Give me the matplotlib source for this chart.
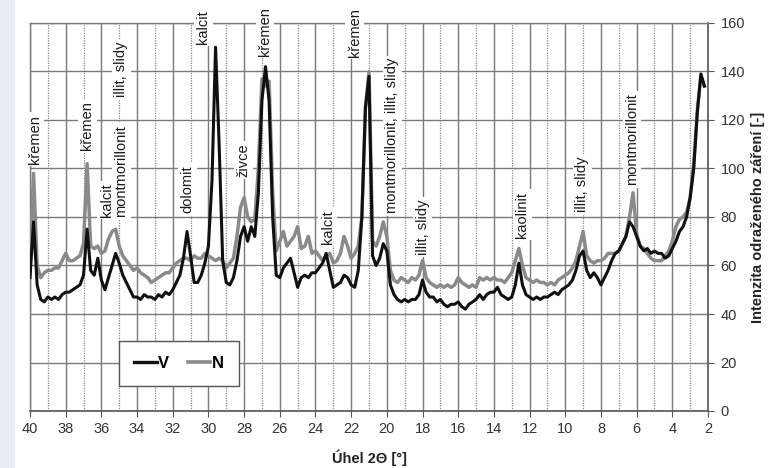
import numpy as np
import matplotlib
matplotlib.use("Agg")
import matplotlib.pyplot as plt
from matplotlib.patches import Rectangle
from matplotlib.lines import Line2D

plt.rcParams['font.family'] = ['Liberation Sans', 'DejaVu Sans']

# 2theta scan positions (step 0.2 deg), from 40 down to 2.2
two_theta = np.round(np.arange(40.0, 2.1, -0.2), 1)

# intensity, sample V (black)
v_vals = [
    55, 78, 52, 46, 45, 47, 46, 47, 46, 48,      # 40.0 - 38.2
    49, 49, 50, 51, 52, 56, 75, 58, 56, 63,      # 38.0 - 36.2
    54, 50, 55, 60, 65, 61, 56, 53, 50, 47,      # 36.0 - 34.2
    47, 46, 48, 47, 47, 46, 48, 47, 49, 48,      # 34.0 - 32.2
    50, 53, 56, 63, 74, 64, 53, 53, 56, 61,      # 32.0 - 30.2
    68, 95, 150, 110, 62, 53, 52, 55, 62, 72,    # 30.0 - 28.2
    76, 70, 76, 72, 90, 128, 142, 128, 80, 56,   # 28.0 - 26.2
    55, 59, 61, 63, 57, 51, 55, 56, 55, 57,      # 26.0 - 24.2
    57, 59, 61, 65, 58, 51, 52, 53, 56, 55,      # 24.0 - 22.2
    52, 51, 58, 80, 125, 138, 64, 60, 63, 69,    # 22.0 - 20.2
    66, 52, 48, 46, 45, 46, 45, 46, 46, 48,      # 20.0 - 18.2
    54, 49, 47, 47, 45, 46, 44, 43, 44, 44,      # 18.0 - 16.2
    45, 43, 42, 44, 45, 46, 48, 46, 48, 49,      # 16.0 - 14.2
    49, 51, 48, 47, 46, 47, 52, 61, 52, 48,      # 14.0 - 12.2
    47, 46, 47, 46, 47, 47, 48, 49, 48, 50,      # 12.0 - 10.2
    51, 52, 54, 58, 64, 66, 58, 55, 57, 55,      # 10.0 - 8.2
    52, 55, 58, 62, 65, 66, 69, 72, 78, 76,      # 8.0 - 6.2
    72, 68, 66, 67, 65, 66, 65, 65, 63, 64,      # 6.0 - 4.2
    67, 70, 74, 76, 80, 88, 100, 123, 139, 134,  # 4.0 - 2.2
]

# intensity, sample N (gray)
n_vals = [
    62, 98, 60, 55, 57, 58, 58, 59, 59, 62,      # 40.0 - 38.2
    65, 62, 62, 63, 64, 69, 102, 68, 67, 68,     # 38.0 - 36.2
    65, 66, 71, 74, 75, 68, 64, 62, 60, 58,      # 36.0 - 34.2
    59, 57, 56, 55, 53, 54, 55, 56, 57, 57,      # 34.0 - 32.2
    59, 61, 62, 63, 63, 62, 64, 63, 63, 65,      # 32.0 - 30.2
    64, 63, 62, 63, 62, 59, 61, 63, 72, 84,      # 30.0 - 28.2
    88, 80, 78, 79, 100, 137, 134, 136, 90, 66,  # 28.0 - 26.2
    70, 74, 68, 70, 72, 76, 67, 68, 72, 65,      # 26.0 - 24.2
    66, 64, 62, 64, 65, 61, 62, 65, 72, 68,      # 24.0 - 22.2
    63, 65, 68, 80, 125, 140, 70, 68, 72, 78,    # 22.0 - 20.2
    72, 58, 54, 53, 55, 54, 53, 55, 54, 56,      # 20.0 - 18.2
    62, 55, 53, 52, 51, 52, 51, 52, 51, 52,      # 18.0 - 16.2
    55, 53, 52, 51, 52, 51, 55, 54, 55, 54,      # 16.0 - 14.2
    55, 54, 54, 53, 55, 57, 62, 67, 60, 55,      # 14.0 - 12.2
    54, 53, 54, 53, 53, 52, 53, 52, 54, 55,      # 12.0 - 10.2
    56, 57, 59, 62, 68, 74, 64, 62, 61, 62,      # 10.0 - 8.2
    62, 63, 65, 65, 65, 66, 69, 72, 80, 90,      # 8.0 - 6.2
    73, 68, 67, 65, 63, 62, 62, 62, 64, 66,      # 6.0 - 4.2
    70, 76, 79, 80, 82, 88, 102, 124, 138, 134,  # 4.0 - 2.2
]

# mineral labels: position, text, bottom of the label
label_pos = [39.72, 36.8, 35.7, 34.88, 34.88, 31.18, 30.28, 28.06, 26.83,
             23.3, 21.8, 19.7, 18.0, 12.4, 9.06, 6.26]
label_txt = ["křemen", "křemen", "kalcit", "montmorillonit", "illit, slidy",
             "dolomit", "kalcit", "živce", "křemen", "kalcit", "křemen",
             "montmorillonit, illit, slidy", "illit, slidy", "kaolinit",
             "illit, slidy", "montmorillonit"]
label_y = [102, 107.5, 80, 80, 129.5, 81.5, 151.5, 96.5, 146.5, 69, 146,
           81.5, 64.5, 71.5, 82, 93]

fig = plt.figure(figsize=(7.73, 4.68), dpi=100)
fig.patches.append(Rectangle((0, 0), 15 / 773, 1, transform=fig.transFigure,
                             facecolor='#e6edf5', edgecolor='none', zorder=0))
ax = fig.add_axes([30 / 773, 1 - 411 / 468, 678 / 773, 388 / 468])

ax.plot(two_theta, n_vals, color='#8a8a8a', lw=2.5, zorder=4, solid_joinstyle='round')
ax.plot(two_theta, v_vals, color='#101010', lw=2.2, zorder=5, solid_joinstyle='round')

ax.set_xlim(40, 2)
ax.set_ylim(0, 160)
ax.set_xticks(np.arange(40, 1, -2))
ax.set_xticks(np.arange(39, 2, -2), minor=True)
ax.set_yticks(np.arange(0, 161, 20))
ax.yaxis.tick_right()
ax.yaxis.set_label_position('right')

ax.set_axisbelow(True)
ax.grid(which='major', axis='both', color='#7a7a7a', lw=1.0)
ax.grid(which='minor', axis='x', color='#8a8a8a', lw=0.9, ls=(0, (1, 1)))

ax.tick_params(axis='x', which='major', direction='out', length=4, color='#555555',
               labelsize=10.5, labelcolor='#333333', pad=4)
ax.tick_params(axis='x', which='minor', length=0)
ax.tick_params(axis='y', which='major', direction='out', length=4, color='#555555',
               labelsize=10.5, labelcolor='#333333', pad=5)

for side in ['left', 'top']:
    ax.spines[side].set_color('#7a7a7a')
    ax.spines[side].set_linewidth(1.0)
for side in ['right', 'bottom']:
    ax.spines[side].set_color('#555555')
    ax.spines[side].set_linewidth(1.2)

ax.set_xlabel("Úhel 2Θ [°]", fontsize=10.5, fontweight='bold', color='#222222', labelpad=10)
ax.set_ylabel("Intenzita odraženého záření [-]", fontsize=10.5, fontweight='bold',
              color='#222222', labelpad=4)

for xp, txt, yp in zip(label_pos, label_txt, label_y):
    ax.text(xp, yp, txt, rotation=90, ha='center', va='bottom', fontsize=10.5,
            color='#1a1a1a', zorder=3, clip_on=False,
            bbox=dict(facecolor='white', edgecolor='none', pad=1.8))

handles = [Line2D([], [], color='#101010', lw=2.4), Line2D([], [], color='#8a8a8a', lw=2.6)]
leg = ax.legend(handles, ["V", "N"], loc='center', bbox_to_anchor=(0.2198, 0.1224),
                ncol=2, fancybox=False, framealpha=1, edgecolor='#555555',
                prop={'weight': 'bold', 'size': 12}, handlelength=1.35,
                handletextpad=0.1, columnspacing=1.1, borderpad=0.9)
leg.get_frame().set_linewidth(1.0)
leg.set_zorder(6)

fig.savefig("out.png", dpi=100)
